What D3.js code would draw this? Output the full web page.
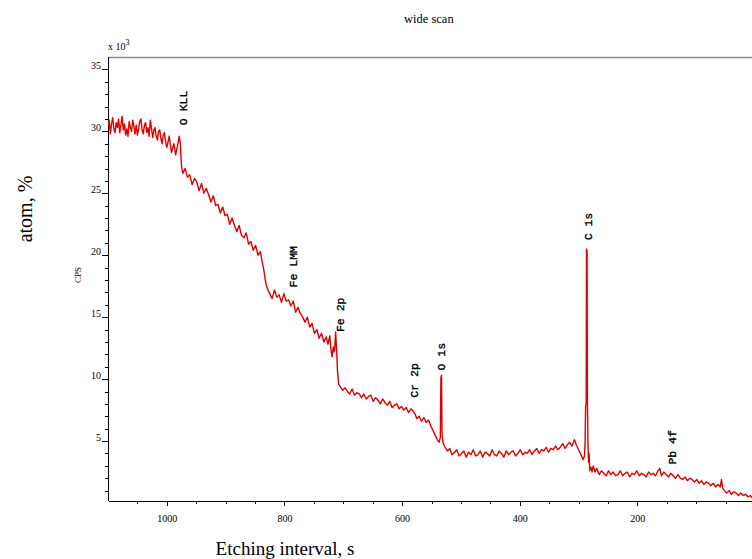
<!DOCTYPE html>
<html>
<head>
<meta charset="utf-8">
<title>wide scan</title>
<style>
	body {
		margin: 0;
		background: #fff;
	}
	.chart text {
		font-family: "Liberation Serif", "Times New Roman", serif;
		fill: #000;
	}
	.chart .axis text {
		font-size: 10px;
	}
	.chart .axis path,
	.chart .axis line {
		stroke: #000;
		shape-rendering: crispEdges;
	}
	.chart .peak {
		font-family: "Liberation Mono", "Courier New", monospace;
		font-size: 11.5px;
		stroke: #000;
		stroke-width: 0.35px;
	}
	.chart .spectrum {
		fill: none;
		stroke: #dd0000;
		stroke-width: 1.4px;
		stroke-linejoin: round;
	}
</style>
</head>
<body>

<svg class="chart" width="752" height="559"></svg>

<script src="https://d3js.org/d3.v7.min.js"></script>
<script>
	(function() {
		'use strict'

		// binding energy (eV) and counts (x 10^3 CPS)
		var bindingEnergy = [
			// high-energy shelf
			1100, 1098, 1096, 1094, 1092, 1090, 1088, 1086, 1084, 1082, 1080, 1078, 1076, 1074, 1072, 1070,
			1068, 1066, 1064, 1062, 1060, 1058, 1056, 1054, 1052, 1050, 1048, 1046, 1044, 1042, 1040, 1038,
			1036, 1034, 1032, 1030, 1028, 1026, 1024, 1022, 1020, 1018, 1016, 1014, 1012, 1010, 1008, 1006,
			1004, 1002, 1000,
			996, 992, 988, 985, 982, 979, 977, 975, 973,
			969, 965, 961, 957, 953, 949, 945, 941, 937, 933, 929, 925, 921, 917, 913, 909, 905,
			901, 897, 893, 889, 885, 881, 877, 873, 869, 865, 861, 857, 853, 849, 845, 841,
			838, 835, 832, 829,
			825, 821, 817, 813, 809, 805, 801, 797, 793, 789, 785, 781, 777, 773, 769, 765, 761, 757,
			753, 749, 745, 741, 737, 733, 729,
			726, 723, 721, 719, 717, 715, 713, 711, 710, 708,
			705, 701, 697, 693, 689, 685, 681, 677, 673, 669, 665, 661, 657, 653, 649, 645,
			641, 637, 633, 629, 625, 621, 617, 613, 609, 605, 601, 597, 593, 589, 585, 581,
			578, 575,
			571, 567, 563, 559, 555, 551,
			547, 543, 540, 537, 535, 534, 533, 532, 530,
			// flat region
			527, 523, 519, 515, 511, 507, 503, 499, 495, 491, 487, 483, 479, 475, 471, 467, 463, 459, 455, 451,
			447, 443, 439, 435, 431, 427, 423, 419, 415, 411, 407, 403, 399, 395, 391, 387, 383, 379, 375, 371,
			367, 363, 359, 355, 351, 347, 343, 339, 335, 331, 327, 323, 319, 315, 311, 307,
			304, 301, 298, 295, 292, 290, 289, 288, 287, 286.5, 285.5, 285, 284, 283, 282, 281, 279, 277, 275, 272, 269,
			// low-energy tail
			265, 261, 257, 253, 249, 245, 241, 237, 233, 229, 225, 221, 217, 213, 209, 205, 201, 197, 193, 189,
			185, 181, 177, 173, 169, 165,
			162,
			159, 155, 151, 147, 143, 139, 135, 131, 127, 123, 119, 115, 111, 107, 103, 99, 95, 91, 87, 83,
			79, 75, 71, 67, 63, 59,
			57, 55,
			52, 48, 44, 40, 36, 32, 28, 24, 20, 16, 12, 8, 4,
			0
		]

		var cps = [
			30.4, 30.9, 29.8, 30.6, 31.1, 30.2, 29.9, 30.7, 30.3, 31.0, 29.9, 30.5, 31.2, 30.1, 30.6, 29.7,
			30.2, 29.6, 30.8, 30.3, 30.0, 30.9, 30.4, 29.8, 30.5, 29.7, 30.2, 30.8, 31.0, 30.1, 29.8, 30.5,
			30.7, 29.9, 30.3, 29.6, 30.9, 30.2, 29.5, 30.1, 30.3, 29.6, 29.3, 30.0, 30.1, 29.4, 29.0, 29.7,
			29.9, 29.1, 28.7,
			29.6, 28.3, 29.0, 28.1, 28.8, 29.6, 29.0, 27.2, 26.6,
			27.0, 26.3, 26.5, 25.7, 26.2, 25.9, 25.2, 25.8, 25.0, 25.4, 24.9, 24.3, 24.8, 24.0, 24.1, 23.4, 23.9,
			23.2, 23.3, 22.5, 23.0, 22.4, 21.9, 22.4, 21.6, 21.4, 21.8, 20.9, 21.1, 20.4, 20.8, 20.0, 20.3,
			19.5, 18.8, 17.8, 17.3,
			16.9, 16.5, 17.2, 16.6, 16.8, 16.2, 16.9, 16.3, 16.4, 15.9, 16.3, 15.4, 15.8, 15.3, 15.0, 14.6, 15.0, 14.2,
			14.5, 13.7, 14.0, 13.3, 13.7, 13.0, 13.4,
			12.8, 13.5, 12.4, 11.8, 12.6, 12.2, 13.8, 12.0, 10.8, 9.6,
			9.4, 9.1, 9.3, 9.0, 8.8, 9.2, 8.7, 8.9, 8.8, 8.5, 8.8, 8.4, 8.6, 8.7, 8.2, 8.5,
			8.3, 8.0, 8.4, 8.1, 7.9, 8.2, 7.7, 7.9, 8.0, 7.6, 7.8, 7.5, 7.7, 7.3, 7.6, 7.4,
			7.2, 6.8,
			7.0, 6.6, 6.9, 6.5, 6.7, 6.2,
			5.8, 5.4, 5.1, 4.9, 5.3, 10.1, 10.3, 5.5, 4.8,
			4.5, 4.2, 4.4, 3.9, 4.1, 4.3, 3.8, 4.0, 4.2, 3.7, 4.1, 3.9, 4.3, 3.8, 3.9, 4.2, 3.7, 4.1, 4.0, 3.8,
			4.3, 3.9, 3.8, 4.2, 4.0, 3.7, 4.2, 3.9, 4.1, 4.2, 3.8, 4.0, 4.3, 3.9, 4.1, 4.0, 4.3, 3.9, 4.2, 4.4,
			4.0, 4.3, 4.2, 4.5, 4.1, 4.4, 4.3, 4.6, 4.3, 4.5, 4.8, 4.4, 4.7, 4.9, 4.6, 5.1,
			4.7, 4.4, 4.1, 3.8, 3.5, 3.8, 4.7, 7.8, 8.0, 20.5, 20.3, 8.5, 4.8, 3.3, 4.0, 2.6, 2.9, 2.5, 3.0, 2.5, 2.8,
			2.3, 2.6, 2.4, 2.2, 2.6, 2.3, 2.5, 2.2, 2.3, 2.6, 2.2, 2.4, 2.5, 2.1, 2.4, 2.3, 2.6, 2.2, 2.4, 2.3,
			2.1, 2.5, 2.3, 2.4, 2.2, 2.6,
			2.8,
			2.2, 2.5, 2.3, 2.1, 2.4, 2.2, 2.0, 2.3, 2.0, 1.9, 2.1, 1.8, 2.0, 1.9, 1.7, 1.9, 1.6, 1.8, 1.5, 1.7,
			1.6, 1.4, 1.6, 1.3, 1.5, 1.3,
			1.9, 1.2,
			1.0, 0.8, 1.0, 0.7, 0.9, 0.8, 0.6, 0.8, 0.6, 0.7, 0.5, 0.6, 0.4,
			0.5
		]

		// peak annotations: name, energy, height of the label foot (x 10^3)
		var peakNames = ['O KLL', 'Fe LMM', 'Fe 2p', 'Cr 2p', 'O 1s', 'C 1s', 'Pb 4f']
		var peakEnergy = [973, 786, 706, 580, 534, 284, 141]
		var peakLabelAt = [30.5, 17.4, 13.8, 8.5, 10.7, 21.2, 3.1]

		var xMajor = [1000, 800, 600, 400, 200]
		var xMinor = d3.range(1050, 0, -50)
		var yMajor = [5, 10, 15, 20, 25, 30, 35]
		var yMinor = d3.range(1, 36)

		var width = 752
		var left = 108, top = 57, bottom = 501

		var svg = d3.select('.chart')

		var x = d3.scaleLinear().domain([1100, 0]).range([left, 755])
		var y = d3.scaleLinear().domain([0, 36]).range([503, top])

		// frame top (grey)
		svg.append('line')
			.attr('x1', left).attr('x2', width)
			.attr('y1', top + 0.5).attr('y2', top + 0.5)
			.attr('stroke', '#8c8c8c')
			.attr('stroke-width', 1.5)

		// x axis
		svg.append('g')
			.attr('class', 'axis')
			.attr('transform', 'translate(0,' + bottom + ')')
			.call(d3.axisBottom(x).tickValues(xMinor).tickSize(3).tickSizeOuter(0).tickFormat(''))
			.call(function(g) { g.select('.domain').remove() })

		svg.append('g')
			.attr('class', 'axis')
			.attr('transform', 'translate(0,' + bottom + ')')
			.call(d3.axisBottom(x).tickValues(xMajor).tickSize(5).tickSizeOuter(0).tickPadding(9)
				.tickFormat(d3.format('d')))

		// y axis
		svg.append('g')
			.attr('class', 'axis')
			.attr('transform', 'translate(' + left + ',0)')
			.call(d3.axisLeft(y).tickValues(yMinor).tickSize(3).tickFormat(''))
			.call(function(g) { g.select('.domain').remove() })

		var yAxis = svg.append('g')
			.attr('class', 'axis')
			.attr('transform', 'translate(' + left + ',0)')
			.call(d3.axisLeft(y).tickValues(yMajor).tickSize(6).tickSizeOuter(0).tickPadding(1))

		yAxis.select('.domain').attr('d', 'M0,' + top + 'V' + bottom)
		yAxis.selectAll('.tick text').attr('dy', '-0.1em')

		// clip the trace to the frame
		svg.append('clipPath')
			.attr('id', 'plot-clip')
			.append('rect')
			.attr('x', left).attr('y', top)
			.attr('width', width - left).attr('height', bottom - top)

		var points = bindingEnergy.map(function(e, i) { return [e, cps[i]] })

		svg.append('path')
			.attr('class', 'spectrum')
			.attr('clip-path', 'url(#plot-clip)')
			.attr('d', d3.line()
				.x(function(d) { return x(d[0]) })
				.y(function(d) { return y(d[1]) })(points))

		// peak labels
		svg.selectAll('.peak')
			.data(peakNames)
			.enter()
			.append('text')
			.attr('class', 'peak')
			.attr('transform', function(d, i) {
				return 'translate(' + (x(peakEnergy[i]) + 4) + ',' + y(peakLabelAt[i]) + ') rotate(-90)'
			})
			.text(function(d) { return d })

		// texts
		svg.append('text')
			.attr('x', 404).attr('y', 23)
			.style('font-size', '12.5px')
			.text('wide scan')

		var mult = svg.append('text')
			.attr('x', 108).attr('y', 50)
			.style('font-size', '10px')
			.text('x 10')
		mult.append('tspan')
			.attr('dy', -5)
			.style('font-size', '8px')
			.text('3')

		svg.append('text')
			.attr('transform', 'translate(81,275) rotate(-90)')
			.attr('text-anchor', 'middle')
			.style('font-size', '9px')
			.text('CPS')

		svg.append('text')
			.attr('transform', 'translate(32,209) rotate(-90)')
			.attr('text-anchor', 'middle')
			.style('font-size', '20px')
			.text('atom, %')

		svg.append('text')
			.attr('x', 285).attr('y', 555)
			.attr('text-anchor', 'middle')
			.style('font-size', '19px')
			.text('Etching interval, s')

	})()
</script>
</body>
</html>
